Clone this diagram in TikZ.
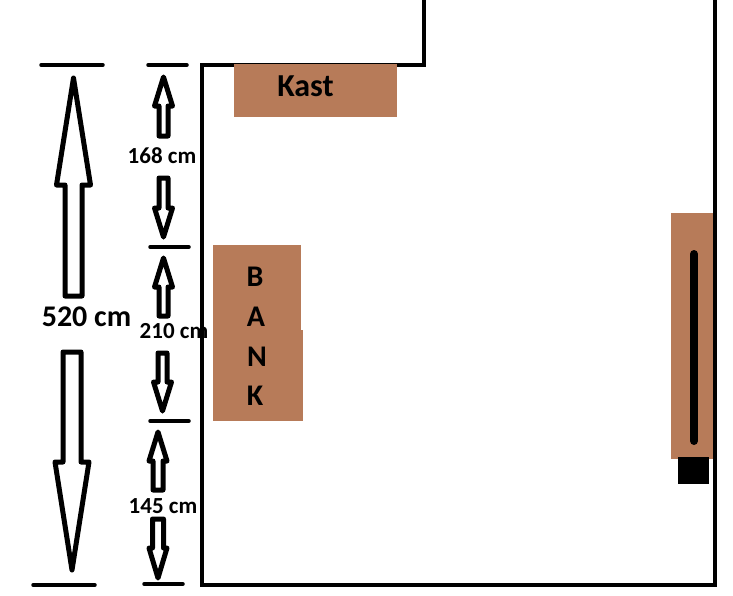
\documentclass[tikz,border=0pt]{standalone}
\usepackage{fontspec}
\setmainfont{Carlito}
\usepackage{xcolor}
\definecolor{Wood}{HTML}{B77B59}
\tikzset{
    wall/.style = {line width=4.5pt, line join=miter, line cap=square},
    tick/.style = {line width=3.5pt, line cap=round},
    outline/.style = {line width=5pt, line join=round, fill=white},
    wood/.style = {fill=Wood, draw=none},
    label/.style = {font=\bfseries\fontsize{23}{23}\selectfont, inner sep=0pt},
    biglabel/.style = {font=\bfseries\fontsize{30}{30}\selectfont, inner sep=0pt},
}
\begin{document}
\begin{tikzpicture}[x=1pt, y=-1pt]
    \useasboundingbox (0,0) rectangle (733,595);

    %Walls
    \draw[wall] (424,0) -- (424,65) -- (202,65) -- (202,585) -- (715,585) -- (715,0);

    %Furniture
    \fill[wood] (234,64) rectangle (397,117);
    \fill[wood] (213,245) rectangle (301,330);
    \fill[wood] (213,330) rectangle (303,421);
    \fill[wood] (671,213) rectangle (713,459);

    %Door and lamp
    \draw[line width=8pt, line cap=round] (694,254) -- (694,441);
    \fill (678,457) rectangle (709,484);

    %Ticks
    \foreach \xa/\xb/\y in {41/103/65, 148/187/65, 150/189/247, 150/189/421, 33/95/585, 144/183/584}
        \draw[tick] (\xa,\y) -- (\xb,\y);

    %Arrows: x, half head, half shaft, tip, head base, shaft end
    \foreach \x/\hw/\sw/\tip/\base/\tail in {
        73.5/17/8.5/78/185/296,
        72/17/9/570/462/352,
        163.5/9/4.5/77/106/136,
        163.5/9/4.5/237/208/178,
        163.5/9/4.5/258/287/316,
        162.5/9/4.5/411/382/353,
        158/9/5/432/461/490,
        158/9/5.5/578/548/519}
        \draw[outline] (\x,\tip) -- (\x+\hw,\base) -- (\x+\sw,\base) -- (\x+\sw,\tail)
            -- (\x-\sw,\tail) -- (\x-\sw,\base) -- (\x-\hw,\base) -- cycle;

    %Labels
    \node[biglabel] (Total) at (86.5,317) {520 cm};
    \node[label] (Upper) at (162,156) {168 cm};
    \node[label] (Middle) at (174,331) {210 cm};
    \node[label] (Lower) at (163,506) {145 cm};
    \node[biglabel, font=\bfseries\fontsize{32}{32}\selectfont] (Kast) at (305.5,86) {Kast};
    \node[biglabel] (LetterB) at (255,277) {B};
    \node[biglabel] (LetterA) at (256,317) {A};
    \node[biglabel] (LetterN) at (257,357) {N};
    \node[biglabel] (LetterK) at (255,396) {K};
\end{tikzpicture}
\end{document}
